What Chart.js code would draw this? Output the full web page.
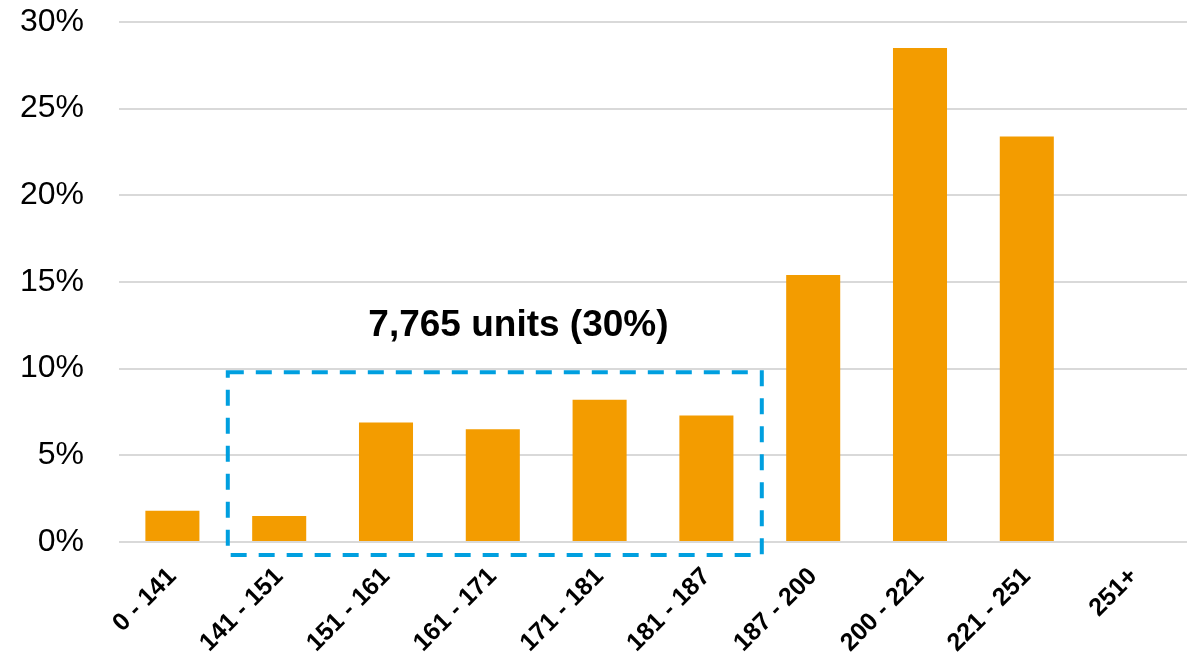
<!DOCTYPE html>
<html>
<head>
<meta charset="utf-8">
<script src="https://cdn.jsdelivr.net/npm/chart.js@4"></script>
<style>
  html, body { margin: 0; padding: 0; background: #fff; }
  #wrap { width: 1196px; height: 655px; }
</style>
</head>
<body>
<div id="wrap"><canvas id="priceChart"></canvas></div>
<script>
// categories and share of units per band (percent)
const bands = ['0 - 141', '141 - 151', '151 - 161', '161 - 171', '171 - 181', '181 - 187', '187 - 200', '200 - 221', '221 - 251', '251+'];
const shares = [1.8, 1.5, 6.9, 6.5, 8.2, 7.3, 15.4, 28.5, 23.4, 0];
const yTicks = [0, 5, 10, 15, 20, 25, 30];

// highlighted group and its label
const boxLabel = '7,765 units (30%)';
const boxFrom = 0.5, boxTo = 5.5;      // category index range
const boxTop = 9.8, boxBottom = -0.75;  // percent
const labelAt = [3.24, 12.5];           // category index, percent

const FONT = "'Liberation Sans', Arial, sans-serif";

// draws the dashed box and the label through the chart's scales
const boxPlugin = {
    id: 'boxPlugin',
    afterDatasetsDraw(chart) {
        const { ctx, scales: { x, y } } = chart;
        const step = x.getPixelForValue(1) - x.getPixelForValue(0);
        const left = x.getPixelForValue(0) + step * boxFrom + 2;
        const right = x.getPixelForValue(0) + step * boxTo + 2;
        const top = y.getPixelForValue(boxTop);
        const bottom = y.getPixelForValue(boxBottom);

        ctx.save();
        ctx.strokeStyle = '#009FDF';
        ctx.lineWidth = 4;
        ctx.setLineDash([16, 12]);
        ctx.strokeRect(left, top, right - left, bottom - top);
        ctx.setLineDash([]);

        ctx.fillStyle = '#000';
        ctx.font = "bold 37px " + FONT;
        ctx.textAlign = 'center';
        ctx.textBaseline = 'middle';
        const lx = x.getPixelForValue(0) + step * labelAt[0];
        ctx.fillText(boxLabel, lx, y.getPixelForValue(labelAt[1]));
        ctx.restore();
    }
};

new Chart(document.getElementById('priceChart').getContext('2d'), {
    type: 'bar',
    data: {
        labels: bands,
        datasets: [{
            data: shares,
            backgroundColor: '#F39C00',
            borderWidth: 0,
            categoryPercentage: 1,
            barPercentage: 0.506
        }]
    },
    options: {
        responsive: true,
        maintainAspectRatio: false,
        animation: false,
        layout: { padding: { top: 22, right: 9, left: 0, bottom: 0 } },
        plugins: {
            legend: { display: false },
            tooltip: { enabled: false }
        },
        scales: {
            x: {
                grid: { display: false },
                border: { display: false },
                afterFit(axis) {
                    axis.height = 113;
                    axis.paddingTop = 0;
                    axis.paddingBottom = 0;
                },
                ticks: {
                    color: '#000',
                    font: { family: FONT, size: 25, weight: 'bold' },
                    minRotation: 45,
                    maxRotation: 45,
                    padding: 12
                }
            },
            y: {
                min: 0,
                max: 30,
                afterBuildTicks(axis) {
                    axis.ticks = yTicks.map(v => ({ value: v }));
                },
                afterFit(axis) {
                    axis.width = 119;
                    axis.paddingTop = 0;
                    axis.paddingBottom = 0;
                },
                grid: { color: '#D9D9D9', lineWidth: 2, drawTicks: false },
                border: { display: false },
                ticks: {
                    color: '#000',
                    font: { family: FONT, size: 32 },
                    padding: 35,
                    callback: v => v + '%'
                }
            }
        }
    },
    plugins: [boxPlugin]
});
</script>
</body>
</html>
